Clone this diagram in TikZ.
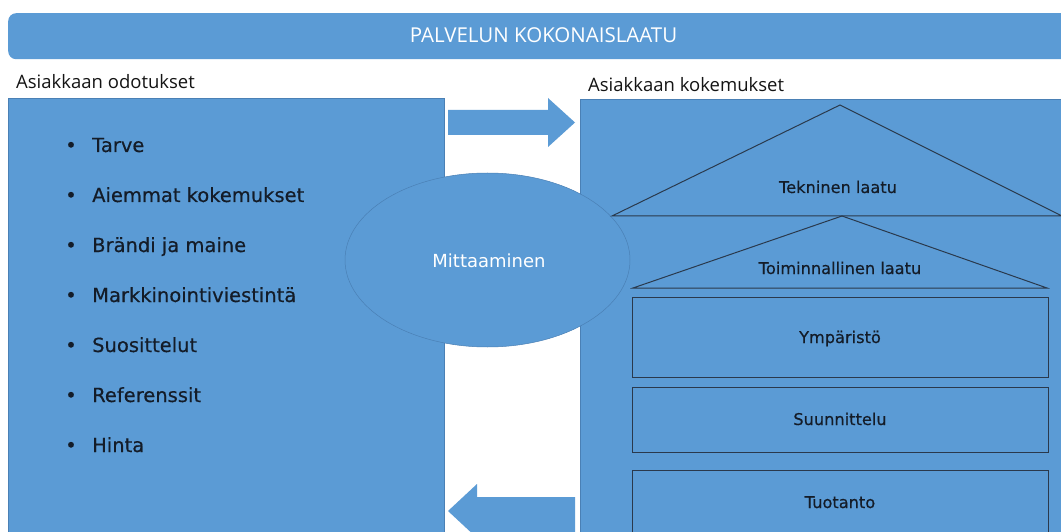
\documentclass[tikz,border=0pt]{standalone}
\usepackage{fontspec}
\usetikzlibrary{shapes.geometric}
\newfontfamily\hfont{Open Sans}
\newfontfamily\bfont[FakeBold=0.4]{DejaVu Sans}
\newfontfamily\wfont{DejaVu Sans}
\definecolor{boxblue}{HTML}{5B9BD5}
\definecolor{edgeblue}{HTML}{4A80B5}
\definecolor{inkline}{HTML}{2A394C}
\definecolor{inktext}{HTML}{141C28}
\tikzset{
  panel/.style={draw=edgeblue, line width=0.6pt, fill=boxblue, anchor=north west, inner sep=0pt},
  heading/.style={anchor=base west, inner sep=0pt, font=\hfont\fontsize{18.5}{20}\selectfont, text=black!92},
  item/.style={anchor=base west, inner sep=0pt, font=\bfont\fontsize{19.5}{22}\selectfont, text=inktext},
  dot/.style={anchor=base, inner sep=0pt, font=\bfont\fontsize{19.5}{22}\selectfont, text=inktext},
  layer/.style={draw=inkline, line width=1pt},
  layertext/.style={anchor=base, inner sep=0pt, font=\bfont\fontsize{16.2}{18}\selectfont, text=inktext},
  blockarrow/.style={fill=boxblue, draw=none},
}
\begin{document}
\begin{tikzpicture}[x=1pt, y=-1pt]
\useasboundingbox (0,0) rectangle (1061,532);
\fill[white] (0,0) rectangle (1061,532);
\clip (0,0) rectangle (1061,532);

% title bar
\node[fill=boxblue, rounded corners=8pt, anchor=north west, inner sep=0pt,
      minimum width=1070pt, minimum height=46pt] (title) at (8,13) {};
\node[anchor=base, inner sep=0pt, text=white, font=\hfont\fontsize{20.5}{22}\selectfont] (titletext) at (543.5,43) {PALVELUN KOKONAISLAATU};

% headings
\node[heading] (hleft) at (16,89) {Asiakkaan odotukset};
\node[heading] (hright) at (588,92) {Asiakkaan kokemukset};

% panels
\node[panel, minimum width=436pt, minimum height=450pt] (left) at (8,98) {};
\node[panel, minimum width=490pt, minimum height=450pt] (right) at (580,99) {};

% block arrows
\path[blockarrow] (448,110) -- (548,110) -- (548,98) -- (575,122.5) -- (548,147) -- (548,135) -- (448,135) -- cycle;
\path[blockarrow] (575,497) -- (477,497) -- (477,484) -- (448,511) -- (477,538) -- (477,545) -- (575,545) -- cycle;

% bullet list
\foreach \t [count=\i] in {Tarve, Aiemmat kokemukset, Brändi ja maine, Markkinointiviestintä, Suosittelut, Referenssit, Hinta}{
  \node[dot] (b\i) at (71,{152+50*(\i-1)}) {•};
  \node[item] (t\i) at (92,{152+50*(\i-1)}) {\t};
}

% measuring ellipse
\node[ellipse, draw=edgeblue, line width=0.5pt, fill=boxblue, minimum width=285pt, minimum height=174pt, inner sep=0pt] (mitta) at (487.5,260) {};
\node[anchor=base, inner sep=0pt, text=white, font=\wfont\fontsize{18}{20}\selectfont] (mittatext) at (489,267) {Mittaaminen};

% house of quality
\coordinate (r1) at (840,105);
\coordinate (r2) at (612,216);
\coordinate (r3) at (1062,216);
\draw[layer] (r1) -- (r2) -- (r3) -- cycle;
\node[layertext] (tek) at (838,193) {Tekninen laatu};

\coordinate (s1) at (842,216);
\coordinate (s2) at (633,288);
\coordinate (s3) at (1047,288);
\draw[layer] (s1) -- (s2) -- (s3) -- cycle;
\node[layertext] (toim) at (840,274) {Toiminnallinen laatu};

\node[layer, anchor=north west, inner sep=0pt, minimum width=416pt, minimum height=80pt] (ymp) at (632,297) {};
\node[layertext] (ymptext) at (840,343) {Ympäristö};
\node[layer, anchor=north west, inner sep=0pt, minimum width=416pt, minimum height=65pt] (suun) at (632,387) {};
\node[layertext] (suuntext) at (840,425) {Suunnittelu};
\node[layer, anchor=north west, inner sep=0pt, minimum width=416pt, minimum height=80pt] (tuot) at (632,470) {};
\node[layertext] (tuottext) at (840,508) {Tuotanto};
\end{tikzpicture}
\end{document}
